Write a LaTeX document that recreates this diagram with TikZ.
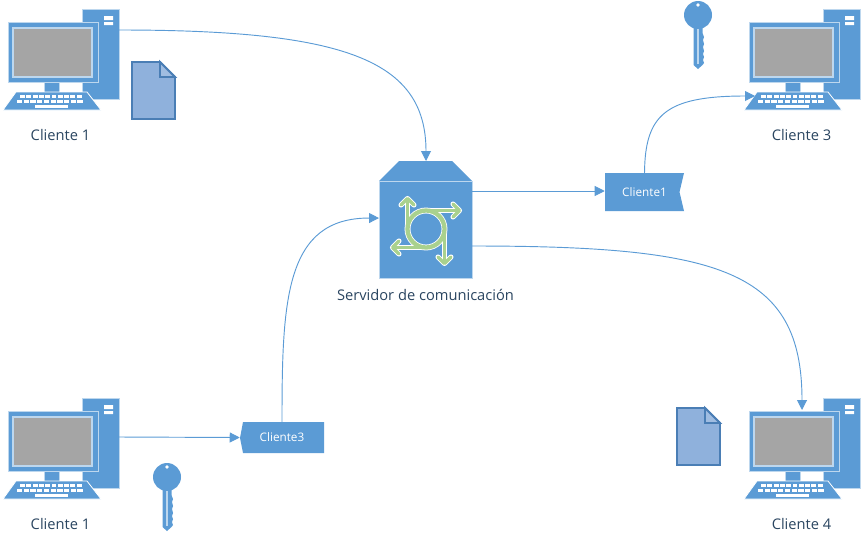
\documentclass[tikz,border=0pt]{standalone}
\usepackage{fontspec}
\setmainfont{Open Sans}
\usetikzlibrary{arrows.meta}
\definecolor{msblue}{HTML}{5B9BD5}
\definecolor{edgeblue}{HTML}{BDD7EE}
\definecolor{scr}{HTML}{A5A5A5}
\definecolor{docfill}{HTML}{8FB1DC}
\definecolor{docline}{HTML}{4A7EB5}
\definecolor{grn}{HTML}{A9D18E}
\definecolor{labelc}{HTML}{2A4560}
\tikzset{
  px/.style={x=0.75pt,y=-0.75pt},
  link/.style={draw=msblue,line width=0.7pt,-{Triangle[length=7.5pt,width=7.5pt]}},
  solidblue/.style={fill=msblue,draw=edgeblue,line width=0.5pt},
  pclabel/.style={text=labelc,font=\fontsize{11}{13}\selectfont,inner sep=0pt},
  taglabel/.style={text=white,font=\fontsize{8.8}{10}\selectfont,inner sep=0pt,minimum height=28pt},
  docshape/.style={fill=docfill,draw=docline,line width=1.4pt,line join=miter},
  ghost/.style={inner sep=0pt,outer sep=0pt,anchor=north west},
  grnline/.style={draw=white,line width=3.8pt},
  grnfill/.style={draw=grn,line width=2.5pt},
}
\newcommand{\computer}[3]{%
  \begin{scope}[shift={(#2,#3)}]
    \node[ghost,solidblue,minimum width=27.75pt,minimum height=67.5pt] (#1) at (82,9) {};
    \coordinate (#1kb) at (14,96);
    \coordinate (#1top) at (61,21);
    \fill[white] (104,16) rectangle (113,20) (104,22) rectangle (113,25);
    \filldraw[solidblue] (44,82) rectangle (59,92);
    \filldraw[fill=msblue,draw=white,line width=0.6pt] (16,92) -- (87,92) -- (101,110) -- (3,110) -- cycle;
    \filldraw[fill=msblue,draw=edgeblue,line width=0.7pt] (8,22) rectangle (98,82);
    \filldraw[fill=scr,draw=edgeblue,line width=0.9pt] (13,28) rectangle (92,77);
    \foreach \i in {0,...,9}{
      \fill[white] ({20+\i*6.3},95.2) rectangle +(4.9,2.8);
      \fill[white] ({17+\i*6.7},100) rectangle +(5.3,2.9);
    }
    \fill[white] (35,104.8) rectangle (68,107.6);
  \end{scope}}
\newcommand{\keyshape}[2]{%
  \begin{scope}[shift={(#1,#2)}]
    \fill[msblue] (0,0) circle (14);
    \fill[msblue] (-4.5,11) -- (-4.5,50) -- (0,54) -- (4.5,50) -- (6,48) -- (5,45) -- (6,42) -- (5,39) -- (6,36) -- (5,32) -- (6,29) -- (5,25) -- (6,22) -- (4.5,18) -- (4.5,11) -- cycle;
    \fill[white] (0,-10) circle (1.8);
    \fill[edgeblue] (-1,14) rectangle (0.6,49);
  \end{scope}}
\newcommand{\docshape}[2]{%
  \begin{scope}[shift={(#1,#2)}]
    \path[docshape] (0,0) -- (28,0) -- (43,15) -- (43,57) -- (0,57) -- cycle;
    \path[docshape,fill=docfill!85!white] (28,0) -- (43,15) -- (28,15) -- cycle;
  \end{scope}}
\newcommand{\fourarrow}{%
  \begin{scope}[shift={(426,229)}]
    \draw[white,line width=4.4pt] (0,0) circle (18.5);
    \foreach \st in {grnline,grnfill}{
      \draw[\st] (-18.5,0) -- (-18.5,-29);
      \draw[\st,line cap=round,line join=round] (-25,-24) -- (-18.5,-30.5) -- (-12,-24);
      \draw[\st] (0,-18.5) -- (32,-18.5);
      \draw[\st,line cap=round,line join=round] (27,-25) -- (33.5,-18.5) -- (27,-12);
      \draw[\st] (18.5,0) -- (18.5,33);
      \draw[\st,line cap=round,line join=round] (12,28) -- (18.5,34.5) -- (25,28);
      \draw[\st] (0,18.5) -- (-32,18.5);
      \draw[\st,line cap=round,line join=round] (-27,12) -- (-33.5,18.5) -- (-27,25);
    }
    \draw[grn,line width=3.2pt] (0,0) circle (18.5);
  \end{scope}}
\begin{document}
\begin{tikzpicture}[px]
\useasboundingbox (0,0) rectangle (862,543);
\computer{pca}{0}{0}
\computer{pcc}{741}{0}
\computer{pcb}{0}{389}
\computer{pcd}{741}{389}
\docshape{132}{62}
\docshape{677}{408}
\keyshape{698}{15}
\keyshape{167}{477}
\node[pclabel] (la) at (60.5,135) {Cliente 1};
\node[pclabel] (lc) at (801.5,135) {Cliente 3};
\node[pclabel] (lb) at (60.5,524) {Cliente 1};
\node[pclabel] (ld) at (801.5,524) {Cliente 4};
% server
\fill[msblue] (379,181) -- (399,161) -- (452,161) -- (472,181) -- cycle;
\node[ghost,solidblue,minimum width=69.75pt,minimum height=72.75pt] (srv) at (379,181) {};
\coordinate (srvtop) at (426,161);
\fourarrow
\node[pclabel] (ls) at (425.5,295) {Servidor de comunicación};
% tags
\fill[msblue] (605,173) -- (684,173) -- (679.5,192) -- (684,211) -- (605,211) -- cycle;
\node[taglabel,minimum width=59.25pt] (taga) at (644.5,192) {Cliente1};
\fill[msblue] (243,422) -- (324,422) -- (324,453) -- (243,453) -- (240,438) -- cycle;
\node[taglabel,minimum width=63pt,minimum height=23pt] (tagb) at (282,437.5) {Cliente3};
% connectors
\draw[link] ([yshift=-15.75pt]pca.north east) .. controls (345,30) and (426,60) .. (srvtop);
\draw[link] (tagb.north) .. controls (282,300) and (285,218) .. ([yshift=8.6pt]srv.west);
\draw[link] ([yshift=-7.5pt]srv.north east) -- (taga.west |- 0,191);
\draw[link] (taga.north) .. controls (645,115) and (665,96) .. (pcckb);
\draw[link] ([yshift=-48.75pt]srv.north east) .. controls (720,246) and (802,270) .. (pcdtop);
\draw[link] ([yshift=-29.25pt]pcb.north east) -- (tagb.west);
\end{tikzpicture}
\end{document}
